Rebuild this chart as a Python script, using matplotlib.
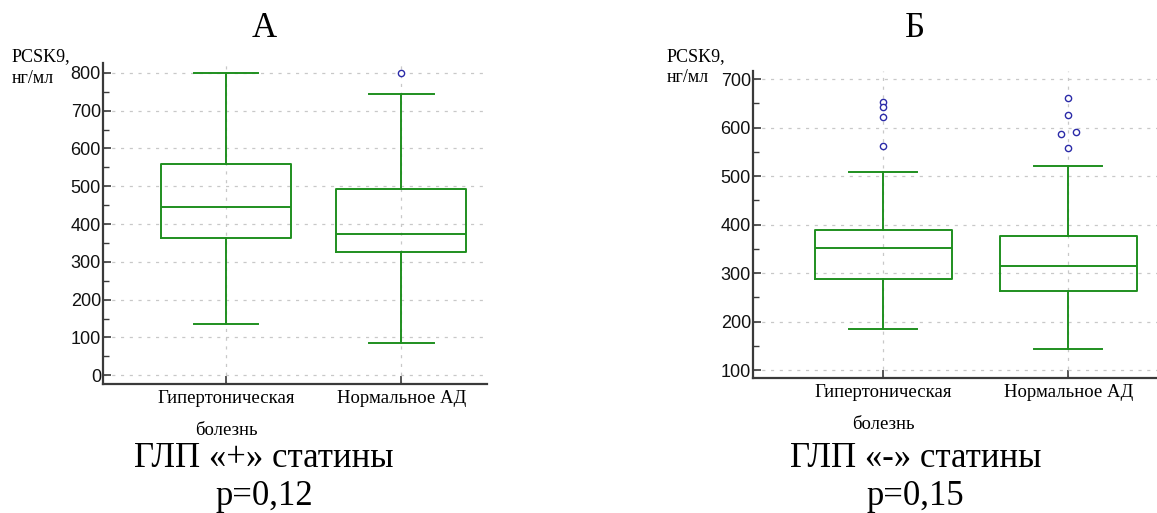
import matplotlib
matplotlib.use("Agg")
import matplotlib.pyplot as plt
from matplotlib.ticker import MultipleLocator

# ---- data ----
categories = ["Гипертоническая\nболезнь", "Нормальное АД"]

# panel A: ГЛП «+», статины
a_whislo = [136, 85]
a_q1 = [363, 326]
a_med = [446, 374]
a_q3 = [559, 492]
a_whishi = [800, 743]
a_fliers = [[], [800]]

# panel Б: ГЛП «-», статины
b_whislo = [185, 143]
b_q1 = [288, 264]
b_med = [351, 315]
b_q3 = [389, 376]
b_whishi = [509, 521]
b_fliers = [[653, 642, 622, 562], [661, 627, 588, 592, 558]]
b_flier_dx = [[0, 0, 0, 0], [0, 0, -0.04, 0.04, 0]]

W, H = 1157, 513
GREEN = "#1f8f1f"
BLUE = "#2b2ba8"
SERIF = "Liberation Serif"
SANS = "Liberation Sans"

fig = plt.figure(figsize=(W / 100, H / 100), dpi=100)


def px_axes(x0, y0, x1, y1):
    return fig.add_axes([x0 / W, 1 - y1 / H, (x1 - x0) / W, (y1 - y0) / H])


def draw_panel(ax, whislo, q1, med, q3, whishi, fliers, dx, ylim, xlim, ymajor, yticks):
    stats = []
    for i in range(len(categories)):
        stats.append(dict(whislo=whislo[i], q1=q1[i], med=med[i], q3=q3[i],
                          whishi=whishi[i], fliers=[]))
    positions = list(range(1, len(categories) + 1))
    ax.set_axisbelow(True)
    ax.grid(True, which="major", color="#c8c8c8", linestyle=(0, (2.5, 4.5)), linewidth=0.9)
    lw = 1.4
    ax.bxp(stats, positions=positions, widths=0.74, showfliers=False,
           boxprops=dict(color=GREEN, linewidth=lw),
           medianprops=dict(color=GREEN, linewidth=lw),
           whiskerprops=dict(color=GREEN, linewidth=lw),
           capprops=dict(color=GREEN, linewidth=lw),
           capwidths=0.37)
    for i, pts in enumerate(fliers):
        if not pts:
            continue
        xs = [positions[i] + (dx[i][k] if dx else 0) for k in range(len(pts))]
        ax.plot(xs, pts, linestyle="none", marker="o", markersize=4.5,
                markerfacecolor="white", markeredgecolor=BLUE, markeredgewidth=1.0,
                zorder=5)
    ax.set_xlim(*xlim)
    ax.set_ylim(*ylim)
    ax.yaxis.set_major_locator(MultipleLocator(ymajor))
    ax.yaxis.set_minor_locator(MultipleLocator(ymajor / 2))
    ax.set_yticks(yticks)
    ax.set_xticks(positions)
    ax.set_xticklabels(categories, fontfamily=SERIF, fontsize=13.5, linespacing=2.15)
    for s in ("top", "right"):
        ax.spines[s].set_visible(False)
    for s in ("left", "bottom"):
        ax.spines[s].set_color("#3a3a3a")
        ax.spines[s].set_linewidth(1.6)
    ax.tick_params(axis="both", which="major", direction="in", length=6, width=1.2,
                   color="#3a3a3a")
    ax.tick_params(axis="y", which="minor", direction="in", length=4, width=1.0,
                   color="#3a3a3a")
    ax.tick_params(axis="y", labelsize=13, pad=1.5, labelcolor="#111111")
    ax.tick_params(axis="x", pad=4)
    for lab in ax.get_yticklabels():
        lab.set_fontfamily(SANS)


axA = px_axes(103, 63, 487, 384)
draw_panel(axA, a_whislo, a_q1, a_med, a_q3, a_whishi, a_fliers, None,
           ylim=(-23, 826), xlim=(0.297, 2.49), ymajor=100,
           yticks=list(range(0, 801, 100)))

axB = px_axes(753, 71, 1157, 378)
draw_panel(axB, b_whislo, b_q1, b_med, b_q3, b_whishi, b_fliers, b_flier_dx,
           ylim=(83.5, 717), xlim=(0.297, 2.48), ymajor=100,
           yticks=list(range(100, 701, 100)))


def ftext(x, y, s, **kw):
    fig.text(x / W, 1 - y / H, s, **kw)


# panel titles
ftext(264, 37, "А", fontfamily=SERIF, fontsize=25, ha="center", va="baseline")
ftext(915, 37, "Б", fontfamily=SERIF, fontsize=25, ha="center", va="baseline")

# axis captions
ftext(12, 61, "PCSK9,", fontfamily=SERIF, fontsize=13, ha="left", va="baseline")
ftext(12, 83, "нг/мл", fontfamily=SERIF, fontsize=13, ha="left", va="baseline")
ftext(667, 61, "PCSK9,", fontfamily=SERIF, fontsize=13, ha="left", va="baseline")
ftext(667, 82, "нг/мл", fontfamily=SERIF, fontsize=13, ha="left", va="baseline")

# group captions with p-values
ftext(264, 467, "ГЛП «+» статины", fontfamily=SERIF, fontsize=25, ha="center", va="baseline")
ftext(264, 505, "p=0,12", fontfamily=SERIF, fontsize=25, ha="center", va="baseline")
ftext(916, 467, "ГЛП «-» статины", fontfamily=SERIF, fontsize=25, ha="center", va="baseline")
ftext(915, 505, "p=0,15", fontfamily=SERIF, fontsize=25, ha="center", va="baseline")

fig.savefig("out.png", dpi=100)
